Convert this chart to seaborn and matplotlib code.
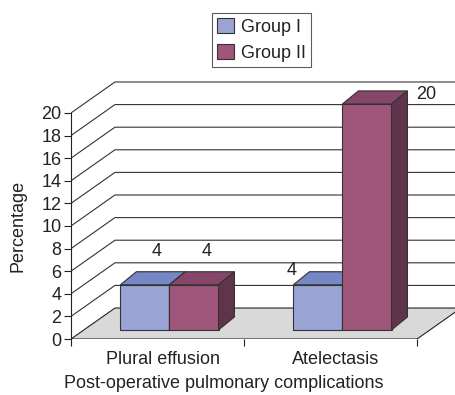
import pandas as pd
import matplotlib
matplotlib.use('Agg')
import matplotlib.pyplot as plt
import matplotlib.transforms as mtransforms
import seaborn as sns
from matplotlib.patches import Polygon, Patch

# dados
complicacoes = ['Plural effusion', 'Atelectasis']
grupos = ['Group I', 'Group II']
grupo1 = [4, 4]
grupo2 = [4, 20]
yticks = list(range(0, 21, 2))

df = pd.DataFrame({
    'complication': complicacoes * 2,
    'group': [grupos[0]] * 2 + [grupos[1]] * 2,
    'percentage': grupo1 + grupo2,
})

# cores (frente, topo, lateral)
cores = {
    'Group I': ('#99a3d4', '#7587c4', '#5d6aa3'),
    'Group II': ('#a0557a', '#874669', '#60344a'),
}

sns.set_style('white')
plt.rcParams['font.family'] = ['Liberation Sans', 'DejaVu Sans']
fs = 13

fig = plt.figure(figsize=(4.56, 3.95), dpi=100)
ax = fig.add_axes([71 / 456, 56 / 395, 385 / 456, 269 / 395])

sns.barplot(data=df, x='complication', y='percentage', hue='group',
            palette=[cores[g][0] for g in grupos], width=0.567,
            edgecolor='#333333', linewidth=0.8, saturation=1,
            legend=False, ax=ax)

ax.set_xlim(-0.5, 1.725)
ax.set_ylim(0, 23.8)

# profundidade da parede de fundo e das barras (unidades de dados)
wx, wy = 0.254, 2.74
bx, by = 0.069, 0.8
dx, dy = 0.092, 1.15

# chao cinza
chao = Polygon([(-0.5, 0), (1.5, 0), (1.5 + wx, wy), (-0.5 + wx, wy)],
               closed=True, facecolor='#d9d9d9', edgecolor='#222222',
               lw=0.8, zorder=0.5)
ax.add_patch(chao)

# linhas de grade na parede de fundo
for t in yticks[1:]:
    ax.plot([-0.5, -0.5 + wx, 1.725], [t, t + wy, t + wy],
            color='#333333', lw=0.8, zorder=1, solid_joinstyle='miter')

# barras com efeito 3D
for j, cont in enumerate(ax.containers):
    frente, topo, lado = cores[grupos[j]]
    for bar in cont:
        x0 = bar.get_x() + bx
        w = bar.get_width()
        h = bar.get_height()
        bar.set_x(x0)
        bar.set_y(by)
        bar.set_zorder(5 + j)
        y1 = by + h
        ax.add_patch(Polygon([(x0, y1), (x0 + w, y1), (x0 + w + dx, y1 + dy), (x0 + dx, y1 + dy)],
                             closed=True, facecolor=topo, edgecolor='#333333', lw=0.8, zorder=5 + j))
        ax.add_patch(Polygon([(x0 + w, by), (x0 + w + dx, by + dy), (x0 + w + dx, y1 + dy), (x0 + w, y1)],
                             closed=True, facecolor=lado, edgecolor='#333333', lw=0.8, zorder=5 + j))

# rotulos de valores (deslocamento em pixels a partir do topo da barra)
desloc = [[(4, 27), (-34, 8)], [(5, 27), (51, 3)]]
for j, cont in enumerate(ax.containers):
    for i, bar in enumerate(cont):
        cx = bar.get_x() + bar.get_width() / 2 + dx / 2
        cy = bar.get_y() + bar.get_height() + dy / 2
        ox, oy = desloc[j][i]
        ax.annotate(f'{bar.get_height():.0f}', (cx, cy), xytext=(ox * 0.72, oy * 0.72),
                    textcoords='offset points', ha='center', va='center',
                    fontsize=fs, color='#222222', zorder=10)

# eixos
for s in ['top', 'right', 'bottom']:
    ax.spines[s].set_visible(False)
ax.spines['left'].set_bounds(0, 20)
ax.spines['left'].set_color('#222222')
ax.spines['left'].set_linewidth(0.8)
ax.set_yticks(yticks)
ax.tick_params(axis='y', length=5, width=0.8, color='#222222', labelsize=fs, pad=2, left=True)
ax.set_xticks([0, 1])
ax.set_xticklabels(complicacoes)
ax.set_xticks([-0.5, 0.5, 1.5], minor=True)
ax.tick_params(axis='x', which='major', length=0, labelsize=fs, pad=9)
ax.tick_params(axis='x', which='minor', length=5, width=0.8, color='#222222', bottom=True)
ax.set_xlabel('')
ax.set_ylabel('')
desl = mtransforms.ScaledTranslation(5 / 100, 0, fig.dpi_scale_trans)
for lab in ax.get_xticklabels():
    lab.set_transform(lab.get_transform() + desl)
for lab in ax.get_xticklabels() + ax.get_yticklabels():
    lab.set_color('#222222')

fig.text(18 / 456, 1 - 226 / 395, 'Percentage', rotation=90, ha='center', va='center',
         fontsize=fs, color='#222222')
fig.text(224 / 456, 1 - 384 / 395, 'Post-operative pulmonary complications',
         ha='center', va='center', fontsize=fs, color='#222222')

# legenda
handles = [Patch(facecolor=cores[g][0], edgecolor='#333333', lw=0.8) for g in grupos]
leg = fig.legend(handles, grupos, loc='upper left', bbox_to_anchor=(212 / 456, 1 - 13 / 395),
                 fontsize=fs, frameon=True, fancybox=False, handlelength=0.9, handleheight=0.9,
                 handletextpad=0.4, labelspacing=0.45, borderpad=0.3, borderaxespad=0)
leg.get_frame().set_edgecolor('#333333')
leg.get_frame().set_linewidth(0.8)
for t in leg.get_texts():
    t.set_color('#222222')

fig.savefig('out.png', dpi=100)
